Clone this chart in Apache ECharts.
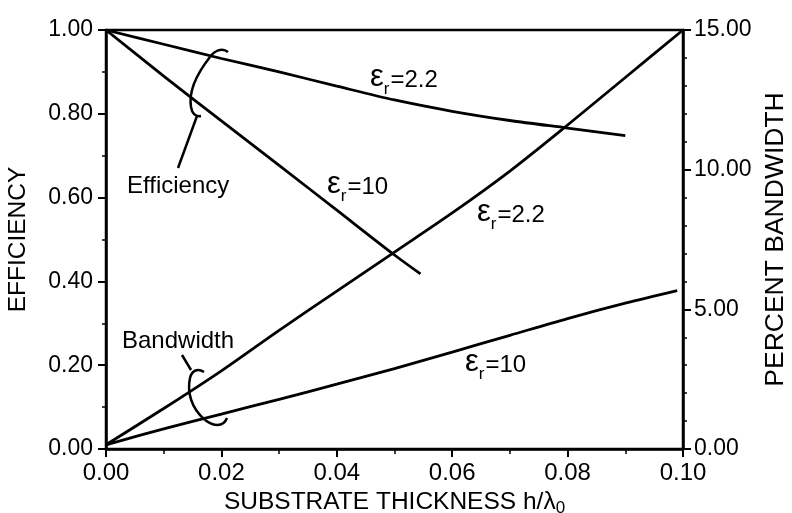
<!DOCTYPE html>
<html>
<head>
<meta charset="utf-8">
<script src="https://cdn.jsdelivr.net/npm/echarts@6/dist/echarts.min.js"></script>
<style>
  html, body { margin: 0; padding: 0; background: #fff; }
  #chart { width: 792px; height: 513px; }
</style>
</head>
<body>
<div id="chart"></div>
<script>
// substrate thickness h/λ0 (x values)
var thickness = [0, 0.01, 0.02, 0.03, 0.04, 0.05, 0.06, 0.07, 0.08, 0.09, 0.10]
var thicknessEff22 = [0, 0.01, 0.02, 0.03, 0.04, 0.05, 0.06, 0.07, 0.08, 0.09]
var thicknessEff10 = [0, 0.01, 0.02, 0.03, 0.04, 0.05, 0.0545]
var thicknessBw10 = [0, 0.01, 0.02, 0.03, 0.04, 0.05, 0.06, 0.07, 0.08, 0.09, 0.099]

// efficiency (left axis)
var effEr22 = [1.0, 0.966, 0.932, 0.9, 0.866, 0.833, 0.806, 0.784, 0.766, 0.748]
var effEr10 = [1.0, 0.89, 0.783, 0.677, 0.57, 0.463, 0.418]

// percent bandwidth (right axis)
var bwEr22 = [0.15, 1.45, 2.8, 4.25, 5.65, 7.05, 8.45, 9.95, 11.6, 13.3, 15.0]
var bwEr10 = [0.15, 0.72, 1.25, 1.78, 2.32, 2.88, 3.47, 4.07, 4.67, 5.22, 5.67]

var FONT = '"Liberation Sans", Arial, sans-serif'

function pairs(xs, ys) {
  return xs.map(function (x, i) { return [x, ys[i]] })
}

// text like "εr=2.2" with a subscript r
function epsLabel(left, top, value) {
  return {
    type: 'text',
    left: left,
    top: top,
    style: {
      text: '{g|ε}{s|r}{e|=' + value + '}',
      fill: '#000',
      rich: {
        g: { fontSize: 31, lineHeight: 31, fontFamily: FONT, verticalAlign: 'bottom', padding: [0, 0, 5, 0], color: '#000' },
        s: { fontSize: 17, lineHeight: 17, fontFamily: FONT, verticalAlign: 'bottom', padding: [0, 1, 0, 0], color: '#000' },
        e: { fontSize: 24, lineHeight: 24, fontFamily: FONT, verticalAlign: 'bottom', padding: [0, 0, 6, 0], color: '#000' },
      },
    },
  }
}

// one cubic piece of a hand drawn bracket
function curve(p) {
  return {
    type: 'bezierCurve',
    shape: { x1: p[0], y1: p[1], cpx1: p[2], cpy1: p[3], cpx2: p[4], cpy2: p[5], x2: p[6], y2: p[7] },
    style: { stroke: '#000', lineWidth: 2.5, fill: null },
  }
}
function stroke(x1, y1, x2, y2) {
  return {
    type: 'line',
    shape: { x1: x1, y1: y1, x2: x2, y2: y2 },
    style: { stroke: '#000', lineWidth: 2.5 },
  }
}

var chart = echarts.init(document.getElementById('chart'))

var axisCommon = {
  axisLine: { show: true, lineStyle: { color: '#000', width: 2.5 } },
  axisTick: { show: true, inside: false, length: 8, lineStyle: { color: '#000', width: 2 } },
  minorTick: { show: true, length: 4, lineStyle: { color: '#000', width: 1.5 } },
  splitLine: { show: false },
  axisLabel: {
    color: '#000',
    fontSize: 23,
    fontFamily: FONT,
    formatter: function (v) { return v.toFixed(2) },
  },
}

var option = {
  animation: false,
  backgroundColor: '#fff',
  grid: {
    left: 106,
    right: 109,
    top: 30,
    bottom: 64,
    outerBoundsMode: 'none',
    containLabel: false,
    show: true,
    borderColor: '#000',
    borderWidth: 2.5,
  },
  xAxis: Object.assign({}, axisCommon, {
    type: 'value',
    min: 0,
    max: 0.1,
    interval: 0.02,
    minorTick: Object.assign({}, axisCommon.minorTick, { splitNumber: 2, length: 5 }),
    axisLabel: Object.assign({}, axisCommon.axisLabel, { fontSize: 24, margin: 12 }),
    name: 'SUBSTRATE THICKNESS h/λ{sub|0}',
    nameLocation: 'middle',
    nameGap: 39,
    nameTextStyle: {
      color: '#000',
      fontSize: 24.5,
      fontFamily: FONT,
      rich: {
        sub: { fontSize: 17, fontFamily: FONT, color: '#000', padding: [11, 0, 0, 0] },
      },
    },
  }),
  yAxis: [
    Object.assign({}, axisCommon, {
      type: 'value',
      position: 'left',
      min: 0,
      max: 1,
      interval: 0.2,
      minorTick: Object.assign({}, axisCommon.minorTick, { splitNumber: 2 }),
      axisLabel: Object.assign({}, axisCommon.axisLabel, { margin: 13 }),
      name: 'EFFICIENCY',
      nameLocation: 'middle',
      nameRotate: 90,
      nameGap: 75,
      nameTextStyle: { color: '#000', fontSize: 24.5, fontFamily: FONT },
    }),
    Object.assign({}, axisCommon, {
      type: 'value',
      position: 'right',
      min: 0,
      max: 15,
      interval: 5,
      minorTick: Object.assign({}, axisCommon.minorTick, { splitNumber: 5 }),
      axisLabel: Object.assign({}, axisCommon.axisLabel, { margin: 11 }),
      name: 'PERCENT BANDWIDTH',
      nameLocation: 'middle',
      nameRotate: 90,
      nameGap: 78,
      nameTextStyle: { color: '#000', fontSize: 26.5, fontFamily: FONT },
    }),
  ],
  series: [
    {
      name: 'Efficiency εr=2.2',
      type: 'line',
      yAxisIndex: 0,
      data: pairs(thicknessEff22, effEr22),
      smooth: 0.3,
      symbol: 'none',
      lineStyle: { color: '#000', width: 2.8 },
    },
    {
      name: 'Efficiency εr=10',
      type: 'line',
      yAxisIndex: 0,
      data: pairs(thicknessEff10, effEr10),
      smooth: 0.3,
      symbol: 'none',
      lineStyle: { color: '#000', width: 2.8 },
    },
    {
      name: 'Bandwidth εr=2.2',
      type: 'line',
      yAxisIndex: 1,
      data: pairs(thickness, bwEr22),
      smooth: 0.3,
      symbol: 'none',
      lineStyle: { color: '#000', width: 2.8 },
    },
    {
      name: 'Bandwidth εr=10',
      type: 'line',
      yAxisIndex: 1,
      data: pairs(thicknessBw10, bwEr10),
      smooth: 0.3,
      symbol: 'none',
      lineStyle: { color: '#000', width: 2.8 },
    },
  ],
  graphic: [
    epsLabel(370, 62, '2.2'),
    epsLabel(327, 169, '10'),
    epsLabel(477, 197, '2.2'),
    epsLabel(465, 347, '10'),
    {
      type: 'text',
      left: 127,
      top: 174,
      style: { text: 'Efficiency', fill: '#000', font: '24px ' + FONT },
    },
    {
      type: 'text',
      left: 122,
      top: 329,
      style: { text: 'Bandwidth', fill: '#000', font: '24px ' + FONT },
    },
    // efficiency bracket + leader
    curve([228, 52, 222, 47, 214, 51, 210, 57]),
    curve([210, 57, 199, 71, 188, 89, 191, 107]),
    curve([191, 107, 192, 113, 195, 117, 201, 116]),
    stroke(197, 116, 178, 168),
    // bandwidth bracket + leader
    curve([204, 372, 198, 368, 192, 370, 190, 378]),
    curve([190, 378, 187, 392, 191, 408, 205, 420]),
    curve([205, 420, 213, 426, 223, 428, 227, 418]),
    stroke(182, 355, 191, 370),
  ],
}

chart.setOption(option)
</script>
</body>
</html>
